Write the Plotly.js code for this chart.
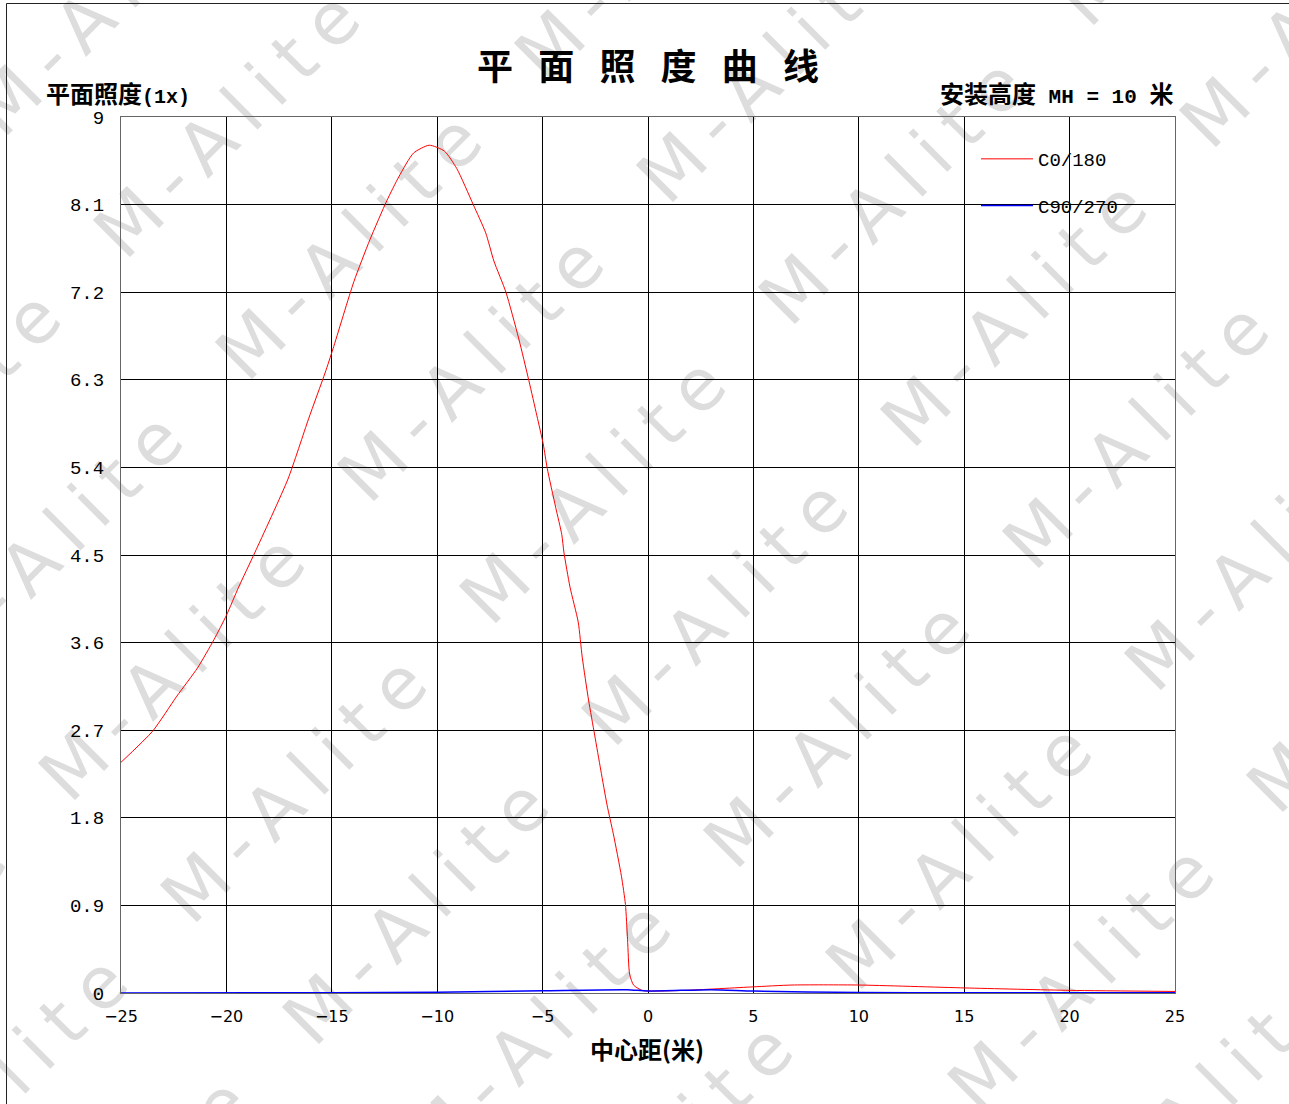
<!DOCTYPE html>
<html>
<head>
<meta charset="utf-8">
<script src="https://cdn.plot.ly/plotly-3.0.1.min.js"></script>
<style>html,body{margin:0;padding:0;background:#fff;}#chart{width:1289px;height:1104px;}</style>
</head>
<body>
<div id="chart"></div>
<script>
// ---- data ----
const xC0 = [-25, -23.5, -22.35, -21.37, -20.59, -20.0, -19.42, -18.64, -17.08, -16.1, -15.32, -14.94, -13.95, -13.19, -12.39, -11.81, -11.12, -10.38, -9.66, -9.07, -8.29, -7.7, -7.31, -6.74, -6.14, -5.65, -5.27, -4.97, -4.78, -4.38, -4.09, -3.99, -3.7, -3.31, -3.12, -2.82, -2.53, -2.24, -1.94, -1.65, -1.26, -1.07, -0.97, -0.87, -0.68, -0.29, 0, 1.75, 4.98, 6.83, 9.96, 15.04, 20.02, 25];
const yC0 = [2.37, 2.69, 3.05, 3.34, 3.63, 3.88, 4.17, 4.53, 5.28, 5.9, 6.37, 6.62, 7.31, 7.74, 8.14, 8.39, 8.63, 8.71, 8.65, 8.47, 8.1, 7.81, 7.52, 7.2, 6.73, 6.29, 5.93, 5.64, 5.39, 4.99, 4.71, 4.53, 4.17, 3.81, 3.45, 3.01, 2.65, 2.29, 1.93, 1.64, 1.2, 0.91, 0.55, 0.19, 0.08, 0.027, 0.02, 0.027, 0.063, 0.082, 0.082, 0.052, 0.027, 0.016];
const xC90 = [-25, -15, -10, -5, -1, 0, 3, 5, 10, 15, 25];
const yC90 = [0.001, 0.003, 0.008, 0.023, 0.034, 0.02, 0.034, 0.02, 0.005, 0.002, 0.002];
const seriesNames = ["C0/180", "C90/270"];
const xTicks = [-25, -20, -15, -10, -5, 0, 5, 10, 15, 20, 25];
const yTicks = [0, 0.9, 1.8, 2.7, 3.6, 4.5, 5.4, 6.3, 7.2, 8.1, 9];
const yTickText = ["0", "0.9", "1.8", "2.7", "3.6", "4.5", "5.4", "6.3", "7.2", "8.1", "9"];
const chartTitle = "平\u2002\u2009面\u2002\u2009照\u2002\u2009度\u2002\u2009曲\u2002\u2009线";
const yLabel = '平面照度<span style="font-family:Liberation Mono;font-size:20px">(1x)</span>';
const mhLabel = '安装高度<span style="font-family:Liberation Mono;font-size:21px"> MH = 10 </span>米';
const xLabel = "中心距(米)";
const watermarkText = "M-Alite";

// ---- page geometry ----
const W = 1289, H = 1104;
const M = {l: 121, r: 114, t: 117, b: 111};
const PW = W - M.l - M.r, PH = H - M.t - M.b;

// watermark background (tiled rotated text + outer frame)
let wm = '';
for (let i = -14; i <= 16; i++) {
  for (let j = -8; j <= 10; j++) {
    const x = 125 + 122 * i + 299 * j, y = 262 + 122 * i - 299 * j;
    if (x < -420 || x > W + 40 || y < -40 || y > H + 420) continue;
    wm += `<text x="${x}" y="${y}" transform="rotate(-45 ${x} ${y})">${watermarkText}</text>`;
  }
}
const svg = `<svg xmlns="http://www.w3.org/2000/svg" width="${W}" height="${H}" viewBox="0 0 ${W} ${H}">` +
  `<g font-family="DejaVu Sans" font-size="72" letter-spacing="15" fill="#dddddd">${wm}</g>` +
  `<path d="M6.5,${H} V3.5 H${W}" fill="none" stroke="#222" stroke-width="1"/></svg>`;
const bgSrc = 'data:image/svg+xml;charset=utf-8,' + encodeURIComponent(svg);

const px = X => (X - M.l) / PW;
const py = Y => (H - M.b - Y) / PH;

const traces = [
  {x: xC0, y: yC0, name: seriesNames[0], type: 'scatter', mode: 'lines',
   line: {color: '#ff0000', width: 1, shape: 'spline', smoothing: 0.6}, legendgroup: 'a'},
  {x: xC90, y: yC90, name: seriesNames[1], type: 'scatter', mode: 'lines',
   line: {color: '#0000ff', width: 1.5, shape: 'spline', smoothing: 0.6}, legendgroup: 'b'}
];

const layout = {
  width: W, height: H,
  margin: M,
  paper_bgcolor: '#ffffff',
  plot_bgcolor: 'rgba(0,0,0,0)',
  showlegend: true,
  legend: {x: px(976), y: py(140), xanchor: 'left', yanchor: 'top',
    bgcolor: 'rgba(0,0,0,0)', borderwidth: 0, itemwidth: 52, tracegroupgap: 19,
    font: {family: 'Liberation Mono', size: 19, color: '#000'}},
  xaxis: {range: [-25, 25], tickvals: xTicks, showgrid: true, gridcolor: '#000', gridwidth: 1,
    zeroline: false, showline: true, mirror: true, linecolor: '#666', linewidth: 1,
    ticks: '', ticklabelstandoff: 9,
    tickfont: {family: 'DejaVu Sans', size: 16, color: '#000'}},
  yaxis: {range: [0, 9], tickvals: yTicks, ticktext: yTickText, showgrid: true, gridcolor: '#000', gridwidth: 1,
    zeroline: false, showline: true, mirror: true, linecolor: '#666', linewidth: 1,
    ticks: '', ticklabelstandoff: 12,
    tickfont: {family: 'Liberation Mono', size: 19, color: '#000'}},
  images: [{source: bgSrc, xref: 'paper', yref: 'paper', x: -M.l / PW, y: 1 + M.t / PH,
    sizex: W / PW, sizey: H / PH, xanchor: 'left', yanchor: 'top', sizing: 'stretch', layer: 'below'}],
  annotations: [
    {text: chartTitle, xref: 'paper', yref: 'paper', x: 0.5, y: py(64), xanchor: 'center', yanchor: 'middle',
     showarrow: false, font: {family: 'Noto Sans CJK SC', size: 36, color: '#000', weight: 'bold'}},
    {text: yLabel, xref: 'paper', yref: 'paper', x: px(44), y: py(92), xanchor: 'left', yanchor: 'middle',
     showarrow: false, font: {family: 'Noto Sans CJK SC', size: 24, color: '#000', weight: 'bold'}},
    {text: mhLabel, xref: 'paper', yref: 'paper', x: 1, y: py(92), xanchor: 'right', yanchor: 'middle',
     showarrow: false, font: {family: 'Noto Sans CJK SC', size: 24, color: '#000', weight: 'bold'}},
    {text: xLabel, xref: 'paper', yref: 'paper', x: px(647), y: py(1048), xanchor: 'center', yanchor: 'middle',
     showarrow: false, font: {family: 'Noto Sans CJK SC', size: 24, color: '#000', weight: 'bold'}}
  ]
};

Plotly.newPlot('chart', traces, layout, {displayModeBar: false, staticPlot: true});
</script>
</body>
</html>
